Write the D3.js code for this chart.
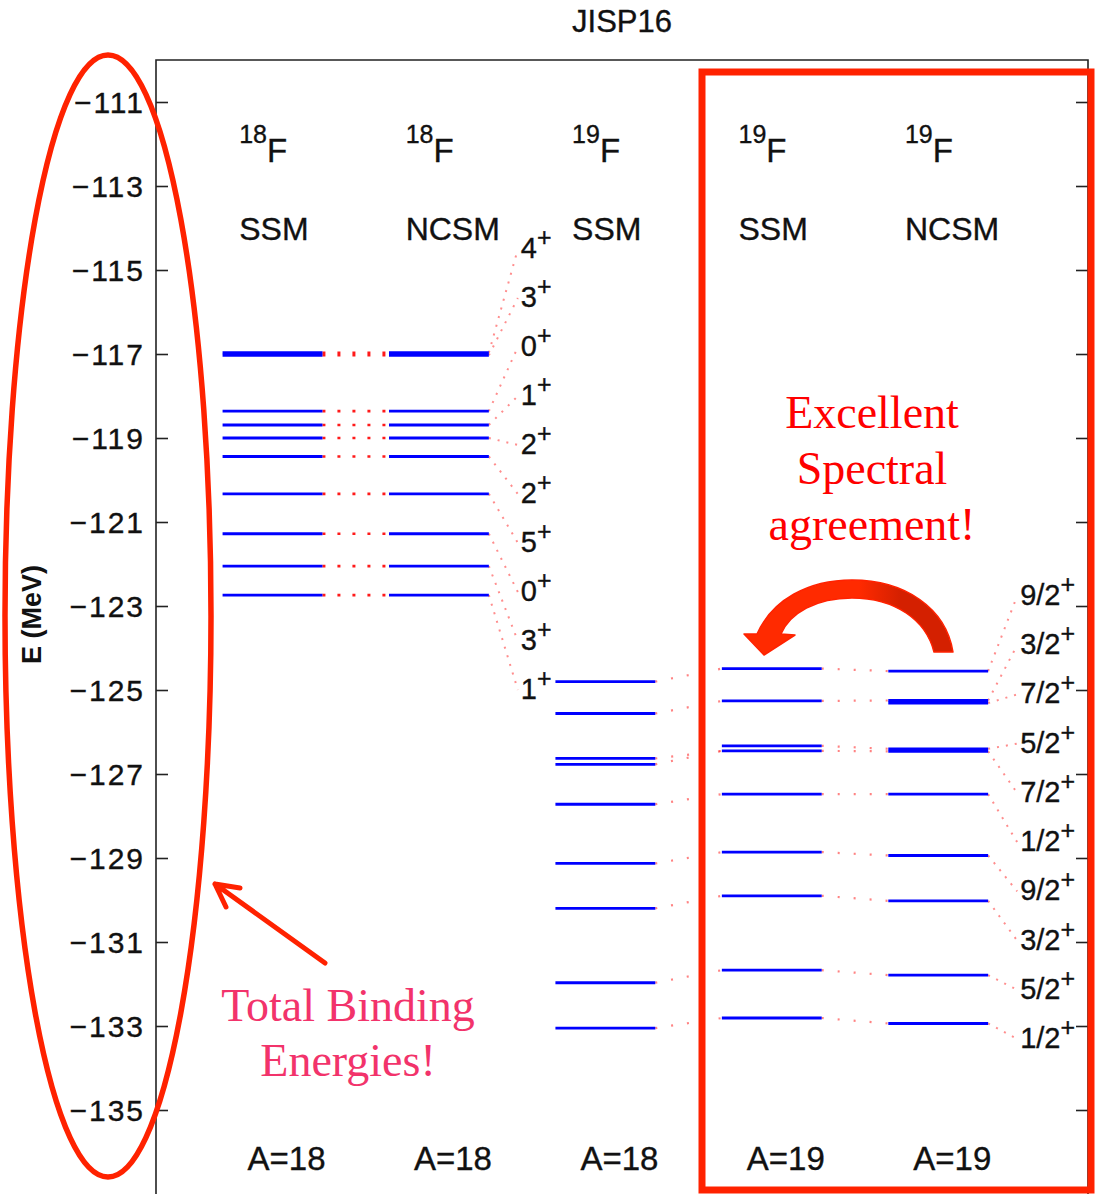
<!DOCTYPE html>
<html>
<head>
<meta charset="utf-8">
<script src="https://cdn.jsdelivr.net/npm/d3@7"></script>
<style>
  body { margin: 0; background: #fff; }
  svg { display: block; }
</style>
</head>
<body>
<script>
// ---- Level scheme data (energies in MeV, listed top to bottom) ----
const nuclideMass = ["18", "18", "19", "19", "19"];
const methods     = ["SSM", "NCSM", "SSM", "SSM", "NCSM"];
const massLabels  = ["A=18", "A=18", "A=18", "A=19", "A=19"];

const f18SSM   = [-116.97, -117.03, -118.36, -118.69, -119.00, -119.44, -120.33, -121.28, -122.05, -122.74];
const f18NCSM  = [-116.97, -117.03, -118.36, -118.69, -119.00, -119.44, -120.33, -121.28, -122.05, -122.74];
const f19SSMa  = [-124.80, -125.56, -126.63, -126.77, -127.72, -129.13, -130.20, -131.97, -133.05];
const f19SSMb  = [-124.49, -125.26, -126.33, -126.45, -127.48, -128.86, -129.90, -131.67, -132.81];
const f19NCSM  = [-124.55, -125.25, -125.31, -126.40, -126.46, -127.48, -128.94, -130.02, -131.79, -132.94];

const spins18 = ["4", "3", "0", "1", "2", "2", "5", "0", "3", "1"];
const spins19 = ["9/2", "3/2", "7/2", "5/2", "7/2", "1/2", "9/2", "3/2", "5/2", "1/2"];

const yTicks = [-111, -113, -115, -117, -119, -121, -123, -125, -127, -129, -131, -133, -135];

const levelColumns = [f18SSM, f18NCSM, f19SSMa, f19SSMb, f19NCSM];

// ---- Layout ----
const W = 1097, H = 1194;
const svg = d3.select("body").append("svg").attr("width", W).attr("height", H);

const x = d3.scaleLinear().domain([0, 5.6]).range([156, 1088]);
const y = d3.scaleLinear().domain([-110, -137]).range([60, 1194]);

const sans = "'Liberation Sans', Arial, Helvetica, sans-serif";
const serif = "'Liberation Serif', 'Times New Roman', serif";
const ink = "#111";

function sansText(sel, size) {
  return sel.attr("font-family", sans).attr("font-size", size)
    .attr("fill", ink).attr("stroke", ink).attr("stroke-width", 0.35);
}

// Title
sansText(svg.append("text"), 31)
  .attr("x", 622).attr("y", 32)
  .attr("text-anchor", "middle")
  .text("JISP16");

// Frame
const frame = svg.append("g").attr("stroke", "#222").attr("stroke-width", 1.6).attr("fill", "none");
frame.append("path").attr("d", `M${x(0)},${H} V${y(-110)} H${x(5.6)} V${H}`);

// Left axis with inward ticks
const yAxisL = d3.axisLeft(y).tickValues(yTicks).tickSize(-12).tickPadding(11)
  .tickFormat(d => d3.format("d")(d).replace("-", "\u2212"));
const gL = svg.append("g").attr("transform", `translate(${x(0)},0)`).call(yAxisL);
gL.select(".domain").remove();
gL.selectAll(".tick line").attr("stroke", "#222").attr("stroke-width", 1.6);
sansText(gL.selectAll(".tick text"), 30).attr("dy", "0.36em").attr("letter-spacing", 2);

// Right axis ticks (inward, no labels)
const yAxisR = d3.axisRight(y).tickValues(yTicks).tickSize(-12).tickFormat("");
const gR = svg.append("g").attr("transform", `translate(${x(5.6)},0)`).call(yAxisR);
gR.select(".domain").remove();
gR.selectAll(".tick line").attr("stroke", "#222").attr("stroke-width", 1.6);

// Axis title
svg.append("text")
  .attr("transform", `translate(41,${y(-123.2)}) rotate(-90)`)
  .attr("text-anchor", "middle")
  .attr("font-family", sans).attr("font-size", 27).attr("font-weight", "bold")
  .attr("fill", ink)
  .text("E (MeV)");

// Column headers: nuclide, method, mass number
methods.forEach((m, i) => {
  const t = sansText(svg.append("text"), 33)
    .attr("x", x(i + 0.5)).attr("y", y(-112.42));
  t.append("tspan").attr("font-size", 25).attr("dy", -19).text(nuclideMass[i]);
  t.append("tspan").attr("font-size", 33).attr("dy", 19).text("F");

  sansText(svg.append("text"), 32)
    .attr("x", x(i + 0.5)).attr("y", y(-114.29))
    .text(m);

  sansText(svg.append("text"), 33)
    .attr("x", x(i + 0.55)).attr("y", y(-136.43))
    .text(massLabels[i]);
});

// Connectors: each level joined to the nearest level of the next column
const connectors = svg.append("g").attr("fill", "none");
function link(a, b, x0, x1, style) {
  a.forEach(e => {
    const target = b.reduce((best, v) => Math.abs(v - e) < Math.abs(best - e) ? v : best, b[0]);
    connectors.append("line")
      .attr("x1", x(x0)).attr("y1", y(e))
      .attr("x2", x(x1)).attr("y2", y(target))
      .attr("stroke", style.color).attr("stroke-opacity", style.opacity)
      .attr("stroke-width", style.width).attr("stroke-dasharray", style.dash);
  });
}
const strong = { color: "#ff1a1a", opacity: 1, width: 2.6, dash: "3,12" };
const faint  = { color: "#ff3030", opacity: 0.6, width: 2.2, dash: "2,14" };
link(f18SSM, f18NCSM, 1, 1.4, strong);
link(f19SSMa, f19SSMb, 3, 3.4, faint);
link(f19SSMb, f19NCSM, 4, 4.4, faint);

// Spin labels fanned out beside a column, joined by dotted leaders
function spinLabels(levels, spins, colEnd, yFirst, yLast) {
  const step = (yLast - yFirst) / (spins.length - 1);
  const x0 = x(colEnd), xl = x0 + 29;
  spins.forEach((s, k) => {
    const yl = yFirst + k * step;
    connectors.append("line")
      .attr("x1", x0).attr("y1", y(levels[k]))
      .attr("x2", xl).attr("y2", yl + 2)
      .attr("stroke", "#ff3030").attr("stroke-opacity", 0.55)
      .attr("stroke-width", 2).attr("stroke-dasharray", "2,7");
    const t = sansText(svg.append("text"), 29)
      .attr("x", xl + 3).attr("y", yl + 11);
    t.append("tspan").attr("font-size", 29).text(s);
    t.append("tspan").attr("font-size", 25).attr("dy", -12).text("+");
  });
}
spinLabels(f18NCSM, spins18, 2, 247, 688);
spinLabels(f19NCSM, spins19, 5, 594, 1037);

// Level lines
const levels = svg.append("g");
levelColumns.forEach((col, i) => {
  levels.selectAll(null).data(col).enter().append("line")
    .attr("x1", x(i + 0.4)).attr("x2", x(i + 1))
    .attr("y1", d => y(d)).attr("y2", d => y(d))
    .attr("stroke", "#0000ff").attr("stroke-width", 2.8);
});

// ---- Annotations ----
const red = "#ff2200";
const ann = svg.append("g");

// Ellipse around the binding-energy axis
ann.append("ellipse")
  .attr("cx", 108).attr("cy", 616).attr("rx", 103).attr("ry", 561)
  .attr("fill", "none").attr("stroke", red).attr("stroke-width", 5.5);

// Box around the A=19 comparison
ann.append("rect")
  .attr("x", 702).attr("y", 72).attr("width", 389).attr("height", 1118)
  .attr("fill", "none").attr("stroke", red).attr("stroke-width", 7);

// Arrow pointing to the axis
ann.append("path")
  .attr("d", "M325,963 L215,884 M240,888 L215,884 L226,907")
  .attr("fill", "none").attr("stroke", red).attr("stroke-width", 5)
  .attr("stroke-linecap", "round").attr("stroke-linejoin", "round");

// Curved arrow from the NCSM column to the SSM column
const defs = svg.append("defs");
const grad = defs.append("linearGradient").attr("id", "arcShade")
  .attr("x1", "0").attr("x2", "1").attr("y1", "0").attr("y2", "0");
grad.append("stop").attr("offset", "0%").attr("stop-color", "#ff2a00");
grad.append("stop").attr("offset", "55%").attr("stop-color", "#ff2a00");
grad.append("stop").attr("offset", "75%").attr("stop-color", "#d42000");
grad.append("stop").attr("offset", "100%").attr("stop-color", "#d42000");
ann.append("path")
  .attr("d", "M744,634 L757,634 C772,600 808,580 852,580 C905,580 946,608 953,652 L934,652 C926,620 895,598 852,598 C816,598 790,613 781,634 L795,635 L764,655 Z")
  .attr("fill", "url(#arcShade)").attr("stroke", red).attr("stroke-width", 1.5)
  .attr("stroke-linejoin", "round");

// Text callouts
const callout1 = ["Excellent", "Spectral", "agreement!"];
callout1.forEach((s, k) => {
  ann.append("text")
    .attr("x", 872).attr("y", 428 + k * 56)
    .attr("text-anchor", "middle")
    .attr("font-family", serif).attr("font-size", 46).attr("fill", "#ff0000")
    .text(s);
});
const callout2 = ["Total Binding", "Energies!"];
callout2.forEach((s, k) => {
  ann.append("text")
    .attr("x", 348).attr("y", 1021 + k * 55)
    .attr("text-anchor", "middle")
    .attr("font-family", serif).attr("font-size", 46).attr("fill", "#f2336b")
    .text(s);
});
</script>
</body>
</html>
